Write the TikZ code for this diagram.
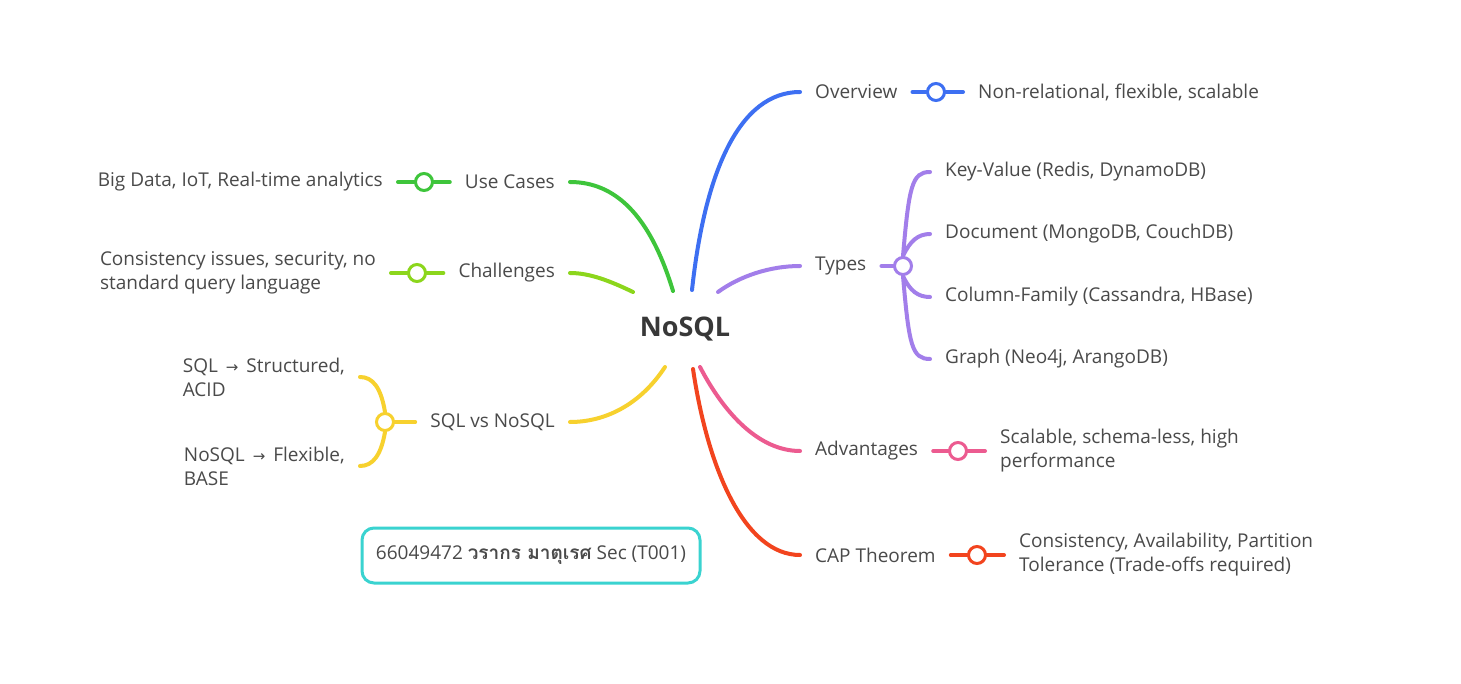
\documentclass[tikz,border=0pt]{standalone}
\usepackage{fontspec}
\setmainfont{Open Sans}
\newfontfamily\thaifont[Script=Thai]{Loma}
\newfontfamily\arrowfont{DejaVu Sans}
\definecolor{txt}{HTML}{4A4A4A}
\definecolor{cBlue}{HTML}{3D6FF2}
\definecolor{cPurple}{HTML}{A27EEA}
\definecolor{cPink}{HTML}{EC5B90}
\definecolor{cRed}{HTML}{F2441E}
\definecolor{cGreen}{HTML}{3EC53B}
\definecolor{cLime}{HTML}{8CD61C}
\definecolor{cYellow}{HTML}{F7D12E}
\definecolor{cCyan}{HTML}{3AD3D0}
\newcommand{\arr}{\hspace{8pt}{\arrowfont\fontsize{15}{18}\selectfont →}\hspace{8pt}}
\begin{document}
\begin{tikzpicture}[x=1pt,y=-1pt,
  lbl/.style={inner xsep=15pt, inner ysep=0pt, text=txt, font=\fontsize{19}{24}\selectfont, align=left},
  dot/.style={circle, draw=#1, fill=white, line width=3pt, minimum size=17pt, inner sep=0pt},
  br/.style={draw=#1, line width=4pt, line cap=round},
]
\useasboundingbox[fill=white] (0,0) rectangle (1461,684);
\node[text=black!78, font=\bfseries\fontsize{27}{30}\selectfont] (root) at (685,329) {NoSQL};

% ---- Overview
\node[lbl, anchor=west] (ov) at (800,92) {Overview};
\node[dot=cBlue] (ovd) at (936,92) {};
\node[lbl, anchor=west] (ovt) at (963,92) {Non-relational, flexible, scalable};
\draw[br=cBlue] ([shift={(7,-39)}]root.center) .. controls (705,170) and (740,92) .. (ov.west);
\draw[br=cBlue] (ov.east) -- (ovd.west);
\draw[br=cBlue] (ovd.east) -- (ovt.west);

% ---- Types
\node[lbl, anchor=west] (ty) at (800,266) {Types};
\node[dot=cPurple] (tyd) at (903,266) {};
\node[lbl, anchor=west] (t1) at (930,172) {Key-Value (Redis, DynamoDB)};
\node[lbl, anchor=west] (t2) at (930,234) {Document (MongoDB, CouchDB)};
\node[lbl, anchor=west] (t3) at (930,297) {Column-Family (Cassandra, HBase)};
\node[lbl, anchor=west] (t4) at (930,359) {Graph (Neo4j, ArangoDB)};
\draw[br=cPurple] ([shift={(33,-37)}]root.center) .. controls (740,276) and (770,266) .. (ty.west);
\draw[br=cPurple] (ty.east) -- (tyd.west);
\draw[br=cPurple] (tyd.north) .. controls (909,186) and (912,172) .. (t1.west);
\draw[br=cPurple] (tyd.north) .. controls (910,241) and (918,234) .. (t2.west);
\draw[br=cPurple] (tyd.south) .. controls (910,291) and (918,297) .. (t3.west);
\draw[br=cPurple] (tyd.south) .. controls (909,346) and (912,359) .. (t4.west);

% ---- Advantages
\node[lbl, anchor=west] (ad) at (800,451) {Advantages};
\node[dot=cPink] (add) at (958,451) {};
\node[lbl, anchor=west] (adt) at (985,451) {Scalable, schema-less, high\\performance};
\draw[br=cPink] ([shift={(15,38)}]root.center) .. controls (725,415) and (760,451) .. (ad.west);
\draw[br=cPink] (ad.east) -- (add.west);
\draw[br=cPink] (add.east) -- (adt.west);

% ---- CAP Theorem
\node[lbl, anchor=west] (cap) at (800,555) {CAP Theorem};
\node[dot=cRed] (capd) at (977,555) {};
\node[lbl, anchor=west] (capt) at (1004,555) {Consistency, Availability, Partition\\Tolerance (Trade-offs required)};
\draw[br=cRed] ([shift={(8,40)}]root.center) .. controls (708,470) and (745,555) .. (cap.west);
\draw[br=cRed] (cap.east) -- (capd.west);
\draw[br=cRed] (capd.east) -- (capt.west);

% ---- Use Cases
\node[lbl, anchor=east] (uc) at (570,182) {Use Cases};
\node[dot=cGreen] (ucd) at (424,182) {};
\node[lbl, anchor=east] (uct) at (398,182) {Big Data, IoT, Real-time analytics};
\draw[br=cGreen] ([shift={(-12,-38)}]root.center) .. controls (650,215) and (615,182) .. (uc.east);
\draw[br=cGreen] (uc.west) -- (ucd.east);
\draw[br=cGreen] (ucd.west) -- (uct.east);

% ---- Challenges
\node[lbl, anchor=east] (ch) at (570,273) {Challenges};
\node[dot=cLime] (chd) at (417,273) {};
\node[lbl, anchor=east] (cht) at (391,273) {Consistency issues, security, no\\standard query language};
\draw[br=cLime] ([shift={(-52,-37)}]root.center) .. controls (610,281) and (590,273) .. (ch.east);
\draw[br=cLime] (ch.west) -- (chd.east);
\draw[br=cLime] (chd.west) -- (cht.east);

% ---- SQL vs NoSQL
\node[lbl, anchor=east] (sv) at (570,422) {SQL vs NoSQL};
\node[dot=cYellow] (svd) at (385,422) {};
\node[lbl, anchor=east] (s1) at (360,377) {SQL\arr{}Structured,\\ACID};
\node[lbl, anchor=east] (s2) at (360,466) {NoSQL\arr{}Flexible,\\BASE};
\draw[br=cYellow] ([shift={(-20,38)}]root.center) .. controls (640,405) and (605,422) .. (sv.east);
\draw[br=cYellow] (sv.west) -- (svd.east);
\draw[br=cYellow] (svd.north) .. controls (381,388) and (373,377) .. (s1.east);
\draw[br=cYellow] (svd.south) .. controls (381,455) and (373,466) .. (s2.east);

% ---- ID box
\node[draw=cCyan, line width=3pt, rounded corners=12pt, minimum width=338pt, minimum height=55pt,
  text=txt, font=\fontsize{19}{24}\selectfont] (id) at (531,555.5)
  {66049472 {\thaifont\bfseries วรากร มาตุเรศ} Sec (T001)};
\end{tikzpicture}
\end{document}
